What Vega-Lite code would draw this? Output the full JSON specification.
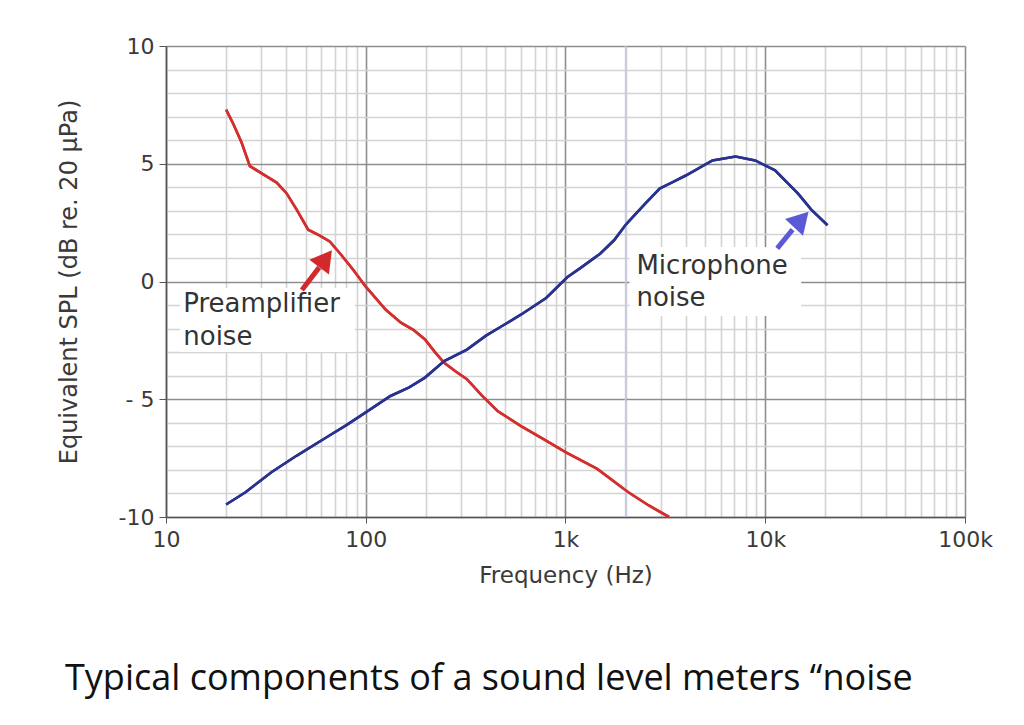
{
  "$schema": "https://vega.github.io/schema/vega-lite/v6.json",
  "width": 799,
  "height": 471,
  "autosize": "none",
  "padding": {"left": 166, "top": 46, "right": 59, "bottom": 208},
  "background": "white",
  "config": {"view": {"stroke": null}, "font": "DejaVu Sans"},
  "title": {
    "text": "Typical components of a sound level meters “noise",
    "orient": "bottom",
    "anchor": "start",
    "frame": "group",
    "font": "Open Sans",
    "fontSize": 36,
    "fontWeight": "normal",
    "color": "#111111",
    "dx": -101,
    "offset": 75
  },
  "datasets": {
    "curves": [
      {"noise": "Preamplifier", "f": 20, "db": 7.3},
      {"noise": "Preamplifier", "f": 21.7, "db": 6.7},
      {"noise": "Preamplifier", "f": 23.9, "db": 5.9},
      {"noise": "Preamplifier", "f": 26.3, "db": 4.9},
      {"noise": "Preamplifier", "f": 30.7, "db": 4.55},
      {"noise": "Preamplifier", "f": 35.8, "db": 4.2},
      {"noise": "Preamplifier", "f": 40.1, "db": 3.75},
      {"noise": "Preamplifier", "f": 45.1, "db": 3.05},
      {"noise": "Preamplifier", "f": 51.5, "db": 2.2},
      {"noise": "Preamplifier", "f": 58.9, "db": 1.95},
      {"noise": "Preamplifier", "f": 66, "db": 1.7},
      {"noise": "Preamplifier", "f": 74.2, "db": 1.2},
      {"noise": "Preamplifier", "f": 86.5, "db": 0.5},
      {"noise": "Preamplifier", "f": 100, "db": -0.22},
      {"noise": "Preamplifier", "f": 126, "db": -1.2},
      {"noise": "Preamplifier", "f": 150, "db": -1.75},
      {"noise": "Preamplifier", "f": 173, "db": -2.05},
      {"noise": "Preamplifier", "f": 198, "db": -2.46},
      {"noise": "Preamplifier", "f": 222, "db": -3.0},
      {"noise": "Preamplifier", "f": 247, "db": -3.45},
      {"noise": "Preamplifier", "f": 280, "db": -3.8},
      {"noise": "Preamplifier", "f": 321, "db": -4.15},
      {"noise": "Preamplifier", "f": 383, "db": -4.86},
      {"noise": "Preamplifier", "f": 457, "db": -5.5},
      {"noise": "Preamplifier", "f": 596, "db": -6.13},
      {"noise": "Preamplifier", "f": 780, "db": -6.7},
      {"noise": "Preamplifier", "f": 1000, "db": -7.25},
      {"noise": "Preamplifier", "f": 1442, "db": -7.96},
      {"noise": "Preamplifier", "f": 2055, "db": -8.94},
      {"noise": "Preamplifier", "f": 2600, "db": -9.5},
      {"noise": "Preamplifier", "f": 3300, "db": -10},
      {"noise": "Microphone", "f": 20, "db": -9.47},
      {"noise": "Microphone", "f": 25, "db": -8.95},
      {"noise": "Microphone", "f": 33.7, "db": -8.1},
      {"noise": "Microphone", "f": 45, "db": -7.4},
      {"noise": "Microphone", "f": 65.5, "db": -6.55},
      {"noise": "Microphone", "f": 80, "db": -6.1},
      {"noise": "Microphone", "f": 100, "db": -5.56},
      {"noise": "Microphone", "f": 133, "db": -4.86},
      {"noise": "Microphone", "f": 165, "db": -4.5},
      {"noise": "Microphone", "f": 198, "db": -4.08},
      {"noise": "Microphone", "f": 247, "db": -3.38},
      {"noise": "Microphone", "f": 321, "db": -2.89},
      {"noise": "Microphone", "f": 400, "db": -2.3},
      {"noise": "Microphone", "f": 479, "db": -1.9},
      {"noise": "Microphone", "f": 600, "db": -1.4},
      {"noise": "Microphone", "f": 800, "db": -0.7},
      {"noise": "Microphone", "f": 1020, "db": 0.18},
      {"noise": "Microphone", "f": 1200, "db": 0.6},
      {"noise": "Microphone", "f": 1490, "db": 1.18},
      {"noise": "Microphone", "f": 1750, "db": 1.75},
      {"noise": "Microphone", "f": 2020, "db": 2.45},
      {"noise": "Microphone", "f": 2500, "db": 3.3},
      {"noise": "Microphone", "f": 2960, "db": 3.95},
      {"noise": "Microphone", "f": 3500, "db": 4.25},
      {"noise": "Microphone", "f": 4000, "db": 4.5},
      {"noise": "Microphone", "f": 5440, "db": 5.14},
      {"noise": "Microphone", "f": 7100, "db": 5.31},
      {"noise": "Microphone", "f": 8900, "db": 5.14},
      {"noise": "Microphone", "f": 11200, "db": 4.72},
      {"noise": "Microphone", "f": 14600, "db": 3.73},
      {"noise": "Microphone", "f": 17000, "db": 3.05},
      {"noise": "Microphone", "f": 20500, "db": 2.39}
    ],
    "boxes": [
      {"noise": "Preamplifier", "f": 11.75, "f2": 88, "db": -0.28, "db2": -2.99},
      {"noise": "Microphone", "f": 2090, "f2": 15140, "db": 1.47, "db2": -1.47}
    ],
    "labels": [
      {"noise": "Preamplifier", "f": 12.2, "db": -0.96, "text": "Preamplifier"},
      {"noise": "Preamplifier", "f": 12.2, "db": -2.36, "text": "noise"},
      {"noise": "Microphone", "f": 2265, "db": 0.66, "text": "Microphone"},
      {"noise": "Microphone", "f": 2265, "db": -0.7, "text": "noise"}
    ],
    "arrows": [
      {"noise": "Preamplifier", "f": 47.9, "db": -0.36, "f2": 58.5, "db2": 0.6, "fh": 62.9, "dbh": 0.97, "angle": 37},
      {"noise": "Microphone", "f": 11480, "db": 1.41, "f2": 13700, "db2": 2.2, "fh": 15150, "dbh": 2.63, "angle": 43}
    ]
  },
  "layer": [
    {
      "data": {"name": "curves"},
      "mark": {"type": "line", "strokeWidth": 2.6},
      "encoding": {
        "x": {
          "field": "f",
          "type": "quantitative",
          "scale": {"type": "log", "domain": [10, 100000], "nice": false},
          "axis": {
            "title": "Frequency (Hz)",
            "labelExpr": "datum.value == 10 ? '10' : datum.value == 100 ? '100' : datum.value == 1000 ? '1k' : datum.value == 10000 ? '10k' : datum.value == 100000 ? '100k' : ''",
            "labelOverlap": false,
            "labelFontSize": 22,
            "labelColor": "#3a3a3a",
            "labelPadding": 6,
            "labelFlush": false,
            "titleFontSize": 23,
            "titleFontWeight": "normal",
            "titleColor": "#3a3a3a",
            "titlePadding": 14,
            "grid": true,
            "gridColor": {"condition": {"test": "indexof([10, 100, 1000, 10000, 100000], datum.value) >= 0", "value": "#8e8e8e"}, "value": "#d3d3d3"},
            "gridWidth": 1.6,
            "tickSize": 6,
            "tickColor": "#555555",
            "tickOpacity": {"condition": {"test": "indexof([10, 100, 1000, 10000, 100000], datum.value) >= 0", "value": 1}, "value": 0},
            "domainColor": "#555555",
            "domainWidth": 1.6
          }
        },
        "y": {
          "field": "db",
          "type": "quantitative",
          "scale": {"domain": [-10, 10], "nice": false},
          "axis": {
            "title": "Equivalent SPL (dB re. 20 µPa)",
            "tickCount": 20,
            "labelExpr": "datum.value % 5 == 0 ? (datum.value == -5 ? '- 5' : '' + datum.value) : ''",
            "labelOverlap": false,
            "labelFontSize": 22,
            "labelColor": "#3a3a3a",
            "labelPadding": 5,
            "labelFlush": false,
            "titleFontSize": 24,
            "titleFontWeight": "normal",
            "titleColor": "#3a3a3a",
            "titlePadding": 37,
            "grid": true,
            "gridColor": {"condition": {"test": "datum.value % 5 == 0", "value": "#8e8e8e"}, "value": "#d3d3d3"},
            "gridWidth": 1.6,
            "tickSize": 7,
            "tickColor": "#555555",
            "tickOpacity": {"condition": {"test": "datum.value % 5 == 0", "value": 1}, "value": 0},
            "domainColor": "#555555",
            "domainWidth": 1.6
          }
        },
        "color": {
          "field": "noise",
          "type": "nominal",
          "scale": {"domain": ["Preamplifier", "Microphone"], "range": ["#d42f2f", "#27338f"]},
          "legend": null
        }
      }
    },
    {
      "data": {"values": [{"f": 2000}]},
      "mark": {"type": "rule", "color": "#c6c6ee", "strokeWidth": 1.6},
      "encoding": {
        "x": {"field": "f", "type": "quantitative"}
      }
    },
    {
      "data": {"name": "boxes"},
      "mark": {"type": "rect", "color": "white"},
      "encoding": {
        "x": {"field": "f", "type": "quantitative"},
        "x2": {"field": "f2"},
        "y": {"field": "db", "type": "quantitative"},
        "y2": {"field": "db2"}
      }
    },
    {
      "data": {"name": "curves"},
      "mark": {"type": "line", "strokeWidth": 2.6},
      "encoding": {
        "x": {"field": "f", "type": "quantitative"},
        "y": {"field": "db", "type": "quantitative"},
        "color": {"field": "noise", "type": "nominal", "legend": null}
      }
    },
    {
      "data": {"name": "arrows"},
      "mark": {"type": "rule", "strokeWidth": 5},
      "encoding": {
        "x": {"field": "f", "type": "quantitative"},
        "y": {"field": "db", "type": "quantitative"},
        "x2": {"field": "f2"},
        "y2": {"field": "db2"},
        "stroke": {
          "field": "noise",
          "type": "nominal",
          "scale": {"domain": ["Preamplifier", "Microphone"], "range": ["#d2292d", "#5a5ad6"]},
          "legend": null
        }
      }
    },
    {
      "data": {"name": "arrows"},
      "mark": {"type": "point", "shape": "triangle-up", "filled": true, "opacity": 1, "size": 600},
      "encoding": {
        "x": {"field": "fh", "type": "quantitative"},
        "y": {"field": "dbh", "type": "quantitative"},
        "angle": {"field": "angle", "type": "quantitative", "scale": null},
        "fill": {
          "field": "noise",
          "type": "nominal",
          "scale": {"domain": ["Preamplifier", "Microphone"], "range": ["#d2292d", "#5a5ad6"]},
          "legend": null
        }
      }
    },
    {
      "data": {"name": "labels"},
      "mark": {"type": "text", "align": "left", "baseline": "middle", "fontSize": 26, "color": "#333333"},
      "encoding": {
        "x": {"field": "f", "type": "quantitative"},
        "y": {"field": "db", "type": "quantitative"},
        "text": {"field": "text"}
      }
    }
  ]
}
